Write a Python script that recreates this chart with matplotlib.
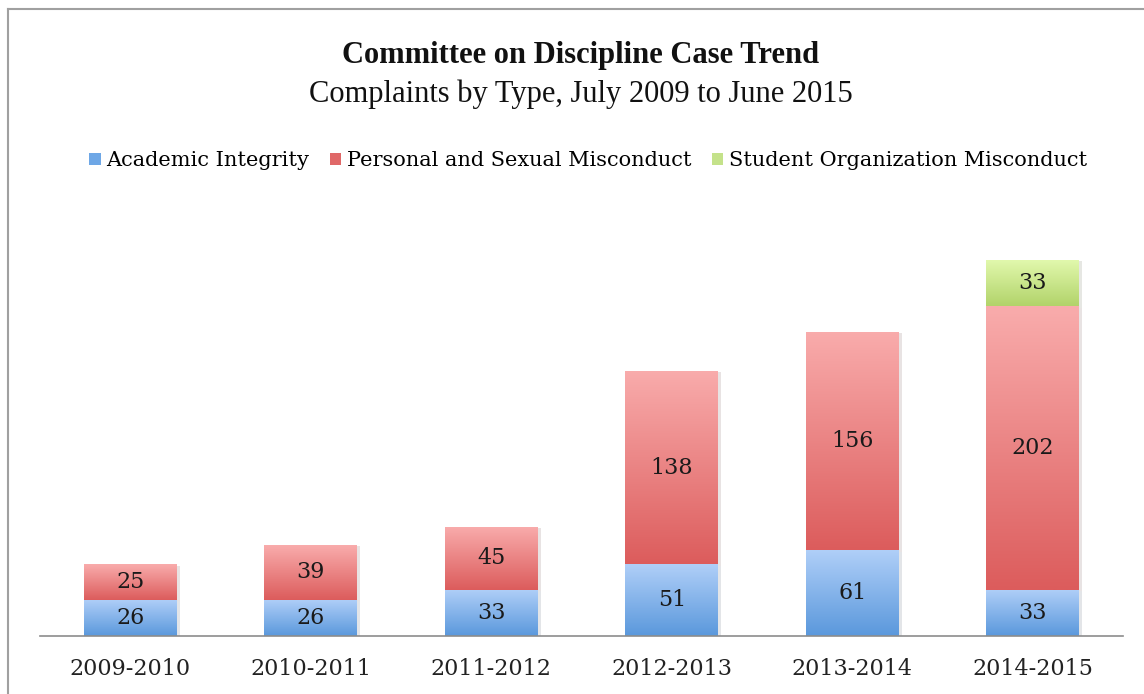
import numpy as np
import matplotlib.pyplot as plt
from matplotlib.colors import LinearSegmentedColormap
from matplotlib.lines import Line2D
from matplotlib.patches import Patch
import matplotlib.patheffects as pe

# -----------------------------------------------------
#  Data
# -----------------------------------------------------
years = ["2009-2010", "2010-2011", "2011-2012", "2012-2013", "2013-2014", "2014-2015"]
academic = [26, 26, 33, 51, 61, 33]
personal = [25, 39, 45, 138, 156, 202]
student_org = [0, 0, 0, 0, 0, 33]

series_names = ["Academic Integrity", "Personal and Sexual Misconduct",
                "Student Organization Misconduct"]
# (bottom colour, top colour) for the gradient of each series
grad_colors = [("#5a98dc", "#b0cff8"), ("#dc5c5c", "#f9acac"), ("#b2d36a", "#e2f9ae")]
legend_colors = ["#6ea7e6", "#e06868", "#c4e28a"]

# -----------------------------------------------------
#  Figure / axes
# -----------------------------------------------------
W, H = 1144, 694
fig = plt.figure(figsize=(W / 100, H / 100), dpi=100)
ax = fig.add_axes([40 / W, (H - 636) / H, (1123 - 40) / W, (636 - 200) / H])

x = np.arange(len(years))
bar_w = 0.515
bottoms = np.zeros(len(years))
serif = "DejaVu Serif"

for vals, (c_lo, c_hi) in zip([academic, personal, student_org], grad_colors):
    vals = np.array(vals, dtype=float)
    bars = ax.bar(x, vals, bar_w, bottom=bottoms, color=c_lo, edgecolor="none", zorder=2,
                  path_effects=[pe.SimplePatchShadow(offset=(2, -1), alpha=0.12), pe.Normal()])
    cmap = LinearSegmentedColormap.from_list("g", [c_lo, c_hi])
    grad = np.linspace(0, 1, 256).reshape(-1, 1)
    for b, v in zip(bars, vals):
        if v <= 0:
            continue
        im = ax.imshow(grad, cmap=cmap, origin="lower", aspect="auto",
                       extent=[b.get_x(), b.get_x() + b.get_width(),
                               b.get_y(), b.get_y() + b.get_height()],
                       zorder=2.1, interpolation="bilinear")
        im.set_clip_path(b)
        ax.text(b.get_x() + b.get_width() / 2, b.get_y() + b.get_height() / 2,
                f"{int(v)}", ha="center", va="center", fontsize=16,
                family=serif, color="#1a1a1a", zorder=4)
    bottoms += vals

ax.set_xlim(-0.5, 5.5)
ax.set_ylim(0, 310.8)
ax.set_xticks(x)
ax.set_xticklabels(years, family=serif, fontsize=16, color="#222222")
ax.tick_params(axis="x", length=0, pad=16)
ax.set_yticks([])
for s in ["top", "right", "left"]:
    ax.spines[s].set_visible(False)
ax.spines["bottom"].set_color("#8c8c8c")
ax.spines["bottom"].set_linewidth(1.2)

# -----------------------------------------------------
#  Titles and legend
# -----------------------------------------------------
fig.text(581 / W, 1 - 55 / H, "Committee on Discipline Case Trend", ha="center", va="center",
         family="Liberation Serif", fontweight="bold", fontsize=22, color="#111111")
fig.text(581 / W, 1 - 94 / H, "Complaints by Type, July 2009 to June 2015", ha="center",
         va="center", family="Liberation Serif", fontsize=22, color="#111111")

handles = [Patch(facecolor=c, edgecolor="none") for c in legend_colors]
fig.legend(handles, series_names, loc="center", bbox_to_anchor=(588 / W, 1 - 161 / H),
           ncol=3, frameon=False, prop={"family": serif, "size": 15},
           handlelength=0.55, handleheight=0.55, handletextpad=0.25, columnspacing=1.0)

# chart frame (top and left edges visible)
fig.add_artist(Line2D([8 / W, 1], [1 - 9 / H, 1 - 9 / H], color="#a0a0a0", lw=1.5))
fig.add_artist(Line2D([8 / W, 8 / W], [0, 1 - 9 / H], color="#a0a0a0", lw=1.5))

fig.savefig("out.png", dpi=100)
